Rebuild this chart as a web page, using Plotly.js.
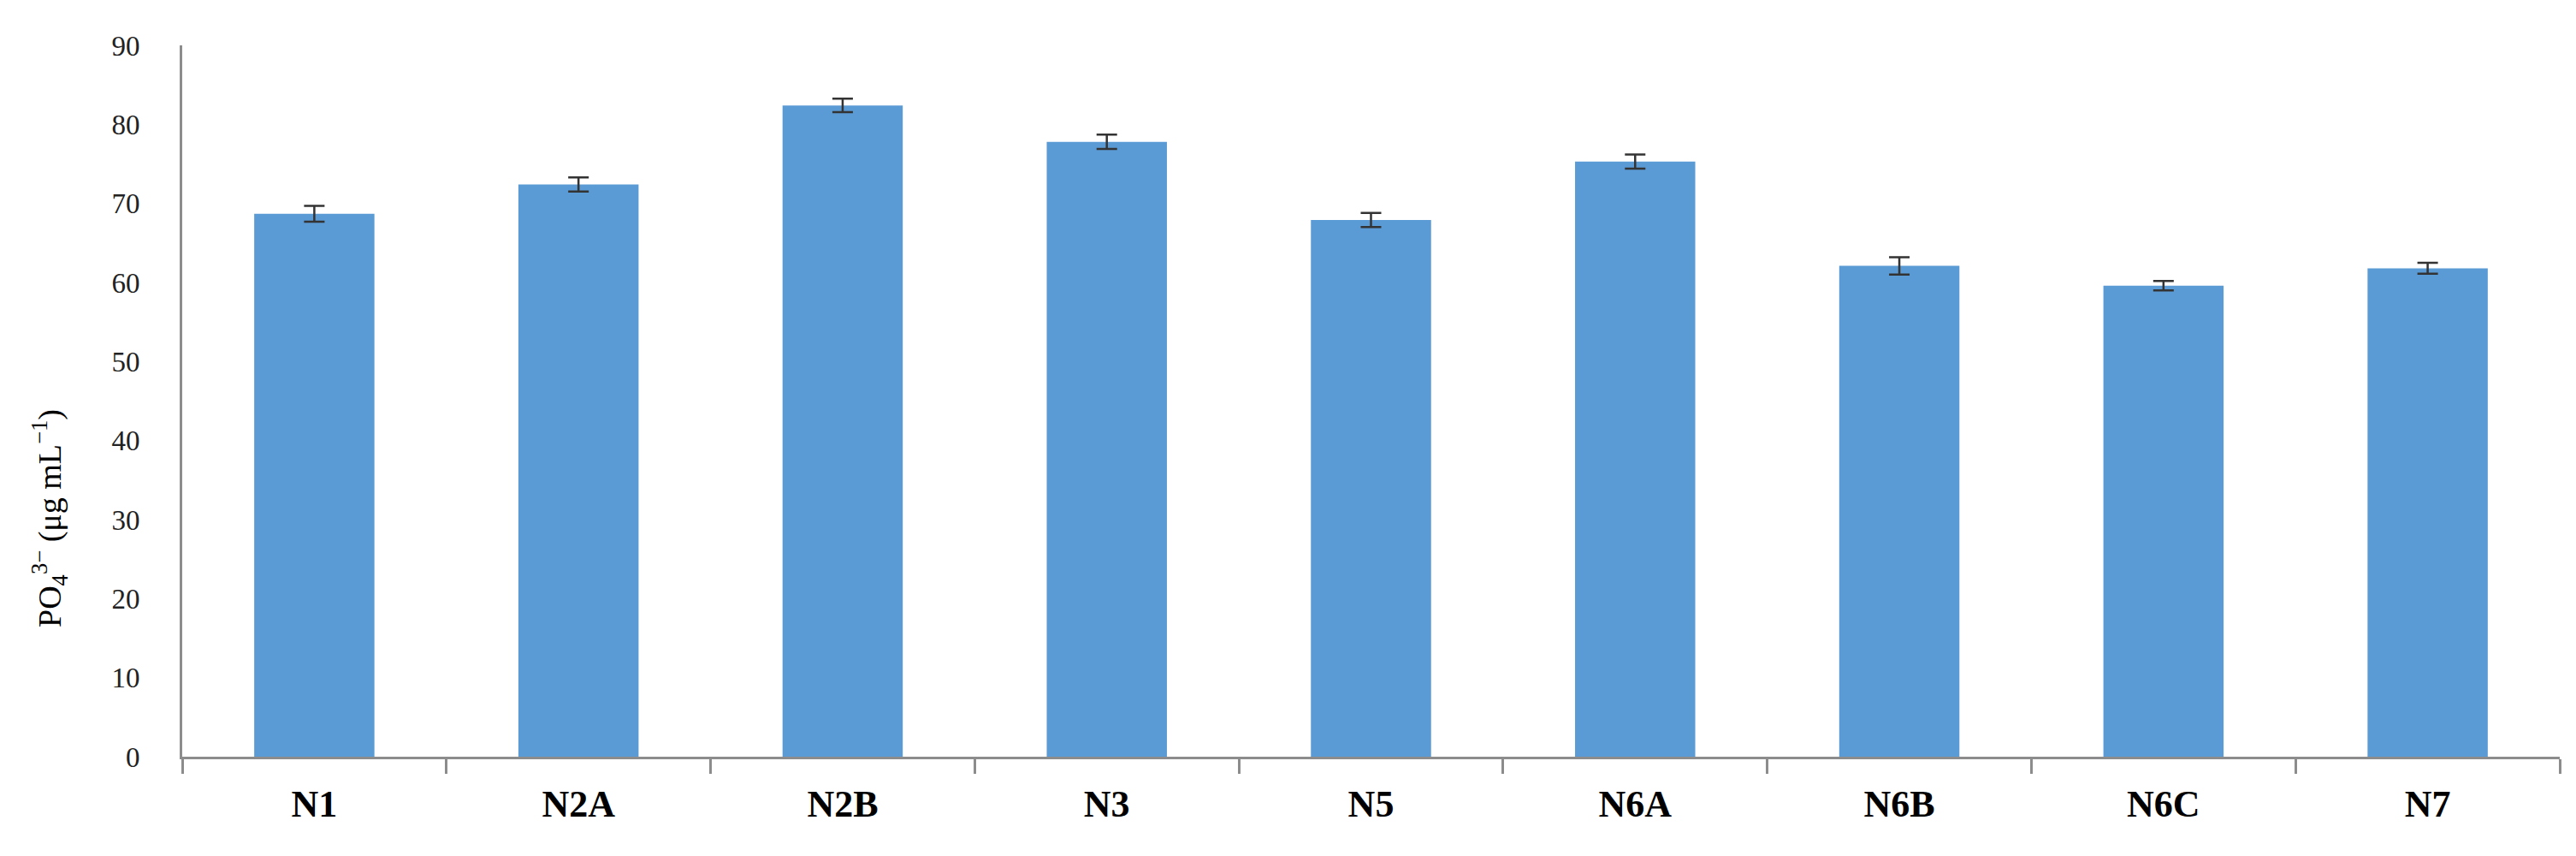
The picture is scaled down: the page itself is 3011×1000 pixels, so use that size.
<!DOCTYPE html>
<html>
<head>
<meta charset="utf-8">
<script src="https://cdn.plot.ly/plotly-3.0.1.min.js"></script>
<style>
  html, body { margin: 0; padding: 0; background: #fff; }
  #chart { width: 3011px; height: 1000px; }
</style>
</head>
<body>
<div id="chart"></div>
<script>
(function() {
  'use strict';

  // sites and phosphate values
  var sites = ['N1', 'N2A', 'N2B', 'N3', 'N5', 'N6A', 'N6B', 'N6C', 'N7'];
  var po4 = [68.7, 72.4, 82.4, 77.8, 67.9, 75.3, 62.1, 59.6, 61.8];
  var po4Err = [1.0, 0.9, 0.85, 0.9, 0.9, 0.9, 1.1, 0.6, 0.7];
  var yTicks = [0, 10, 20, 30, 40, 50, 60, 70, 80, 90];

  var axisGrey = '#8c8c8c';

  var barTrace = {
    type: 'bar',
    x: sites,
    y: po4,
    error_y: {
      type: 'data',
      array: po4Err,
      visible: true,
      color: '#333333',
      thickness: 2.5,
      width: 12
    },
    marker: { color: '#5b9bd5', line: { width: 0 } },
    hoverinfo: 'x+y'
  };

  var layout = {
    width: 3011,
    height: 1000,
    margin: { l: 213, r: 19, t: 53, b: 116 },
    paper_bgcolor: '#ffffff',
    plot_bgcolor: '#ffffff',
    bargap: 0.545,
    showlegend: false,
    font: { family: '"Liberation Serif", "DejaVu Serif", serif', color: '#000' },
    xaxis: {
      type: 'category',
      showline: true,
      linecolor: axisGrey,
      linewidth: 3,
      ticks: 'outside',
      tickson: 'boundaries',
      ticklen: 17,
      tickwidth: 3,
      tickcolor: axisGrey,
      showgrid: false,
      zeroline: false,
      ticklabelstandoff: 14,
      tickfont: { size: 44, family: '"Liberation Serif", serif', weight: 'bold', color: '#000' }
    },
    yaxis: {
      range: [0, 90],
      tickvals: yTicks,
      ticktext: yTicks.map(String),
      showline: true,
      linecolor: axisGrey,
      linewidth: 3,
      ticks: '',
      showgrid: false,
      zeroline: false,
      ticklabelstandoff: 40,
      tickfont: { size: 33, family: '"Liberation Serif", serif', color: '#222' }
    },
    // y title sits below the middle in the original, so it is placed by hand
    annotations: [{
      xref: 'paper',
      yref: 'paper',
      x: -0.056,
      y: 0.335,
      xanchor: 'center',
      yanchor: 'middle',
      textangle: -90,
      showarrow: false,
      text: 'PO<sub>4</sub><sup>3\u2212</sup> (\u03bcg mL<sup>\u22121</sup>)',
      font: { size: 38, family: '"Liberation Serif", serif', color: '#000' }
    }]
  };

  Plotly.newPlot('chart', [barTrace], layout, { displayModeBar: false, staticPlot: true });
}());
</script>
</body>
</html>
